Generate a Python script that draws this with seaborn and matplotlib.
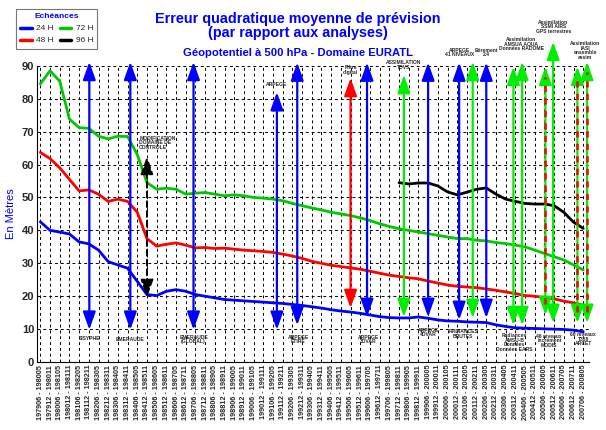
import numpy as np
import pandas as pd
import matplotlib
matplotlib.use("Agg")
import matplotlib.pyplot as plt
import seaborn as sns
from matplotlib.lines import Line2D

# ---------------- data ----------------
periods = [
    "197906 - 198005", "197912 - 198011", "198006 - 198105", "198012 - 198111",
    "198106 - 198205", "198112 - 198211", "198206 - 198305", "198212 - 198311",
    "198306 - 198405", "198312 - 198411", "198406 - 198505", "198412 - 198511",
    "198506 - 198605", "198512 - 198611", "198606 - 198705", "198612 - 198711",
    "198706 - 198805", "198712 - 198811", "198806 - 198905", "198812 - 198911",
    "198906 - 199005", "198912 - 199011", "199006 - 199105", "199012 - 199111",
    "199106 - 199205", "199112 - 199211", "199206 - 199305", "199212 - 199311",
    "199306 - 199405", "199312 - 199411", "199406 - 199505", "199412 - 199511",
    "199506 - 199605", "199512 - 199611", "199606 - 199705", "199612 - 199711",
    "199706 - 199805", "199712 - 199811", "199806 - 199905", "199812 - 199911",
    "199906 - 200005", "199912 - 200011", "200006 - 200105", "200012 - 200111",
    "200106 - 200205", "200112 - 200211", "200206 - 200305", "200212 - 200311",
    "200306 - 200405", "200312 - 200411", "200406 - 200505", "200412 - 200511",
    "200506 - 200605", "200512 - 200611", "200606 - 200705", "200612 - 200711",
    "200706 - 200805",
]

h24 = [42.6, 40.0, 39.5, 38.9, 36.5, 35.9, 34.0, 30.5, 29.5, 28.5,
       24.5, 20.5, 20.2, 21.5, 22.0, 21.5, 20.5, 20.0, 19.5, 19.0,
       18.8, 18.6, 18.4, 18.2, 18.0, 17.8, 17.5, 17.2, 16.8, 16.4,
       15.9, 15.5, 15.2, 14.8, 14.3, 13.8, 13.5, 13.4, 13.4, 13.7,
       13.3, 12.8, 12.5, 12.4, 12.2, 12.1, 12.0, 11.3, 10.8, 10.4,
       10.3, 10.2, 10.1, 10.0, 9.9, 9.7, 9.2]
h48 = [63.7, 61.8, 59.0, 55.5, 52.0, 52.3, 51.0, 48.8, 49.5, 48.8,
       45.5, 37.5, 35.2, 35.8, 36.2, 35.5, 34.7, 34.8, 34.5, 34.6,
       34.3, 34.0, 33.8, 33.6, 33.3, 32.8, 32.2, 31.5, 30.6, 30.0,
       29.4, 29.0, 28.6, 28.2, 27.6, 27.0, 26.4, 26.0, 25.6, 25.3,
       24.6, 24.0, 23.4, 23.0, 22.8, 22.6, 22.2, 21.8, 21.3, 20.8,
       20.2, 20.0, 19.6, 19.2, 18.5, 18.0, 17.2]
h72 = [84.5, 88.5, 85.3, 73.8, 71.2, 71.0, 68.6, 67.8, 68.6, 68.5,
       63.0, 54.5, 52.5, 52.8, 52.5, 51.0, 51.3, 51.5, 51.0, 50.5,
       50.8, 50.5, 50.0, 49.8, 49.5, 49.0, 48.2, 47.5, 46.8, 46.2,
       45.5, 45.0, 44.5, 43.8, 43.0, 42.0, 41.2, 40.5, 40.0, 39.5,
       39.0, 38.5, 38.0, 37.5, 37.5, 37.0, 36.8, 36.3, 36.0, 35.5,
       35.0, 34.0, 33.0, 32.0, 31.0, 29.5, 28.0]
h96 = [np.nan] * 37 + [54.5, 54.1, 54.4, 54.4, 53.5, 51.7, 50.8, 51.6, 52.5, 52.9,
                       51.0, 49.5, 48.8, 48.2, 48.0, 48.0, 47.5, 45.5, 42.5, 40.6]

series_names = ["24 H", "48 H", "72 H", "96 H"]
series_colors = ["#0000ff", "#ff0000", "#00c800", "#000000"]

# model / assimilation changes (vertical double arrows)
ev_pos = [5.05, 9.28, 15.8, 24.4, 26.5, 32.0, 33.7, 37.5, 40.0, 43.2,
          44.6, 46.0, 48.8, 49.7, 52.1, 52.9, 55.4, 56.4]
ev_bot = [9.8, 9.8, 9.8, 9.8, 11.2, 16.4, 13.7, 13.7, 13.7, 12.8,
          13.4, 13.4, 11.2, 11.2, 14.3, 11.9, 11.9, 11.9]
ev_top = [91.2, 91.2, 91.2, 82.0, 91.0, 86.3, 91.0, 87.2, 91.0, 91.0,
          91.2, 91.0, 89.7, 91.2, 89.7, 97.3, 89.7, 91.2]
ev_kind = ["b", "b", "b", "b", "b", "r", "b", "g", "b", "b",
           "g", "b", "g", "g", "rg", "g", "rg", "rg"]

lab_text = ["SISYPHE", "EMERAUDE", "EMERAUDE\n(GLOBAL)", "ARPEGE", "ARPEGE\nETIRE",
            "Filtre\ndigital", "ARPEGE\n3DVAR", "ASSIMILATION\nTOVS", "ARPEGE\n4DVAR",
            "ARPEGE\n41 NIVEAUX", "RADIANCES\nBRUTES", "Etirement\n2.4",
            "Assimilation\nAMSUA AQUA\nDonnées RADOME",
            "Radiances\nAMSU-B\nDonnées\nDonnées EARS",
            "Assimilation\nSSMI AIRS\nGPS terrestres",
            "46 niveaux\nincrément\nMODIS",
            "Assimilation\nIASI\nensemble\nassim",
            "60 niveaux\nT358\nARCET"]
lab_x = [5.05, 9.28, 15.8, 24.4, 26.6, 32.0, 33.8, 37.5, 40.0, 43.2,
         43.6, 46.0, 49.6, 48.9, 52.9, 52.5, 56.2, 56.0]
lab_y = [7.3, 6.9, 6.8, 84.4, 6.8, 88.8, 6.8, 90.3, 9.0, 94.0,
         8.6, 94.0, 96.5, 6.0, 101.8, 6.5, 94.6, 7.0]

# ---------------- plot ----------------
sns.set_theme(style="white")
plt.rcParams["font.family"] = ["Liberation Sans", "DejaVu Sans"]

fig = plt.figure(figsize=(6.06, 4.30), dpi=100)
ax = fig.add_axes([0.061, 0.158, 0.911, 0.689])

x = np.arange(len(periods))
df = pd.DataFrame({
    "x": np.concatenate([x] * 4),
    "val": np.concatenate([h24, h48, h72, h96]),
    "serie": np.repeat(series_names, len(periods)),
})
sns.lineplot(data=df, x="x", y="val", hue="serie", hue_order=series_names,
             palette=dict(zip(series_names, series_colors)), linewidth=2.0,
             ax=ax, legend=False, zorder=3, sort=False)

kind_col = {"b": "#0000ff", "r": "#ff0000", "g": "#00ee00", "rg": "#00ee00"}
for p, b0, t0, k in zip(ev_pos, ev_bot, ev_top, ev_kind):
    c = kind_col[k]
    ax.annotate("", xy=(p, t0), xytext=(p, b0), annotation_clip=False,
                arrowprops=dict(arrowstyle="<|-|>,head_length=0.9,head_width=0.32",
                                color=c, lw=1.6, shrinkA=0, shrinkB=0), zorder=4)
    if k == "rg":
        ax.plot([p, p], [b0 + 3.2, t0 - 3.2], color="#ff0000", lw=1.8,
                dashes=(2.5, 2.5), zorder=5, clip_on=False)

# black dashed arrow (change of verification domain)
ax.annotate("", xy=(11.0, 62.5), xytext=(11.0, 19.6),
            arrowprops=dict(arrowstyle="<|-|>,head_length=0.9,head_width=0.32",
                            color="black", lw=1.4, ls=(0, (3, 2)),
                            shrinkA=0, shrinkB=0), zorder=4)
ax.text(10.2, 68.8, "MODIFICATION\nDOMAINE DE\nCONTROLE", fontsize=3.6,
        fontweight="bold", ha="left", va="top", linespacing=0.9, zorder=6)

for t, lx, ly in zip(lab_text, lab_x, lab_y):
    ax.text(lx, ly, t, fontsize=3.6, fontweight="bold", ha="center", va="center",
            linespacing=0.9, zorder=6, clip_on=False)

ax.set_xlim(-0.35, 56.6)
ax.set_ylim(0, 90)
ax.set_xticks(x)
ax.set_xticklabels(periods, rotation=90, fontsize=5.2, fontweight="bold")
ax.set_yticks(range(0, 91, 10))
ax.tick_params(axis="y", labelsize=8, pad=2, length=0)
ax.tick_params(axis="x", pad=2, length=0)
for lbl in ax.get_yticklabels():
    lbl.set_fontweight("bold")
ax.grid(True, color="black", linestyle=(0, (3, 3)), linewidth=0.7)
ax.set_axisbelow(True)
for s in ("top", "right"):
    ax.spines[s].set_visible(False)
for s in ("left", "bottom"):
    ax.spines[s].set_color("black")
    ax.spines[s].set_linewidth(0.8)
ax.set_xlabel("")
ax.set_ylabel("En Mètres", color="#0000ff", fontsize=8, labelpad=4)

fig.text(0.492, 0.94, "Erreur quadratique moyenne de prévision\n(par rapport aux analyses)",
         ha="center", va="center", fontsize=10.4, fontweight="bold", color="#0000ff",
         linespacing=1.0)
fig.text(0.492, 0.877, "Géopotentiel à 500 hPa - Domaine EURATL", ha="center",
         va="center", fontsize=8.1, fontweight="bold", color="#0000ff")

handles = [Line2D([0], [0], color=c, lw=2.5) for c in series_colors]
leg = fig.legend(handles, series_names, loc="upper left", bbox_to_anchor=(0.02, 0.988),
                 ncol=2, fontsize=6, title="Echéances", frameon=True, fancybox=False,
                 handlelength=1.4, handletextpad=0.5, columnspacing=0.7,
                 borderpad=0.5, labelspacing=0.5)
leg.get_title().set_color("#0000ff")
leg.get_title().set_fontweight("bold")
leg.get_title().set_fontsize(6)
leg.get_frame().set_edgecolor("#555555")
leg.get_frame().set_linewidth(0.8)

fig.savefig("out.png", dpi=100)
